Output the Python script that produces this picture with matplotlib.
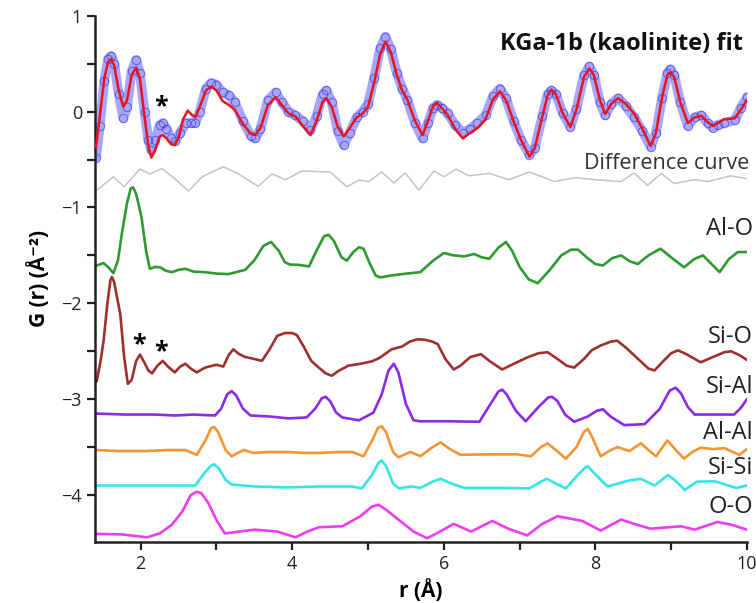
import matplotlib
matplotlib.use("Agg")
import matplotlib.pyplot as plt
from matplotlib.ticker import MultipleLocator

plt.rcParams['font.family'] = ['Open Sans', 'DejaVu Sans']

# measured G(r) for KGa-1b
data_r = [1.41, 1.46, 1.52, 1.57, 1.61, 1.65, 1.71, 1.77, 1.82, 1.88, 1.94, 1.99, 2.05, 2.10, 2.14,
          2.19, 2.25, 2.29, 2.34, 2.40, 2.45, 2.52, 2.60, 2.67, 2.72, 2.78, 2.86, 2.93, 3.00, 3.08,
          3.16, 3.24, 3.35, 3.45, 3.51, 3.58, 3.68, 3.78, 3.86, 3.95, 4.04, 4.14, 4.24, 4.32, 4.40,
          4.45, 4.52, 4.60, 4.68, 4.76, 4.85, 4.93, 5.00, 5.08, 5.16, 5.23, 5.30, 5.38, 5.45, 5.52,
          5.62, 5.72, 5.79, 5.86, 5.91, 5.97, 6.05, 6.15, 6.25, 6.35, 6.44, 6.55, 6.65, 6.74, 6.82,
          6.92, 7.02, 7.13, 7.20, 7.30, 7.37, 7.42, 7.48, 7.57, 7.67, 7.75, 7.85, 7.92, 7.98, 8.06,
          8.13, 8.21, 8.30, 8.40, 8.51, 8.62, 8.73, 8.80, 8.88, 8.95, 8.99, 9.04, 9.12, 9.22, 9.31,
          9.40, 9.48, 9.55, 9.62, 9.70, 9.84, 9.92, 10.0]
data_g = [-0.48, -0.15, 0.32, 0.55, 0.58, 0.50, 0.18, -0.07, 0.05, 0.42, 0.54, 0.40, 0.0, -0.30, -0.40,
          -0.30, -0.14, -0.12, -0.18, -0.28, -0.31, -0.22, -0.12, -0.12, -0.12, 0.0, 0.24, 0.30, 0.28, 0.20,
          0.17, 0.10, -0.10, -0.25, -0.28, -0.18, 0.12, 0.20, 0.10, 0.0, -0.04, -0.10, -0.19, -0.05, 0.18,
          0.22, 0.10, -0.20, -0.35, -0.22, -0.06, 0.0, 0.08, 0.35, 0.66, 0.78, 0.65, 0.40, 0.24, 0.12,
          -0.12, -0.28, -0.12, 0.04, 0.07, 0.04, -0.02, -0.14, -0.22, -0.18, -0.12, -0.04, 0.16, 0.24, 0.14,
          -0.10, -0.30, -0.45, -0.38, -0.05, 0.18, 0.22, 0.18, -0.02, -0.16, 0.03, 0.38, 0.47, 0.38, 0.10,
          -0.04, 0.08, 0.14, 0.06, -0.06, -0.20, -0.37, -0.22, 0.14, 0.40, 0.44, 0.38, 0.10, -0.15, -0.06,
          -0.04, -0.12, -0.17, -0.14, -0.12, -0.09, 0.04, 0.15]

# model fit
fit_r = [1.41, 1.46, 1.52, 1.57, 1.61, 1.65, 1.71, 1.77, 1.82, 1.88, 1.94, 1.99, 2.05, 2.10, 2.14,
         2.19, 2.25, 2.29, 2.34, 2.40, 2.45, 2.50, 2.56, 2.62, 2.67, 2.72, 2.78, 2.86, 2.93, 3.00,
         3.08, 3.16, 3.24, 3.35, 3.45, 3.51, 3.58, 3.68, 3.78, 3.86, 3.95, 4.04, 4.14, 4.24, 4.32,
         4.40, 4.45, 4.52, 4.60, 4.68, 4.76, 4.85, 4.93, 5.00, 5.08, 5.16, 5.23, 5.30, 5.38, 5.45,
         5.52, 5.62, 5.72, 5.79, 5.86, 5.91, 5.97, 6.05, 6.15, 6.25, 6.35, 6.44, 6.55, 6.65, 6.74,
         6.82, 6.92, 7.02, 7.13, 7.20, 7.30, 7.37, 7.42, 7.48, 7.57, 7.67, 7.75, 7.85, 7.92, 7.98,
         8.06, 8.13, 8.21, 8.30, 8.40, 8.51, 8.62, 8.73, 8.80, 8.88, 8.95, 8.99, 9.04, 9.12, 9.22,
         9.31, 9.40, 9.48, 9.55, 9.62, 9.70, 9.84, 9.92, 10.0]
fit_g = [-0.37, -0.05, 0.35, 0.52, 0.55, 0.48, 0.22, 0.05, 0.12, 0.38, 0.46, 0.34, -0.05, -0.36, -0.48,
         -0.40, -0.26, -0.245, -0.28, -0.34, -0.35, -0.27, -0.08, 0.01, -0.03, -0.06, 0.05, 0.22, 0.26, 0.22,
         0.11, 0.07, 0.02, -0.13, -0.23, -0.245, -0.17, 0.07, 0.15, 0.07, -0.02, -0.05, -0.15, -0.245, -0.10,
         0.10, 0.14, 0.05, -0.16, -0.26, -0.17, -0.06, -0.02, 0.05, 0.30, 0.60, 0.73, 0.62, 0.38, 0.22,
         0.12, -0.10, -0.245, -0.10, 0.06, 0.09, 0.04, -0.035, -0.18, -0.28, -0.22, -0.175, -0.08, 0.13, 0.21,
         0.12, -0.10, -0.30, -0.47, -0.38, -0.05, 0.17, 0.23, 0.18, -0.02, -0.16, 0.02, 0.36, 0.45, 0.38,
         0.12, -0.025, 0.08, 0.14, 0.08, -0.02, -0.18, -0.36, -0.22, 0.15, 0.38, 0.41, 0.36, 0.10, -0.12,
         -0.06, -0.045, -0.11, -0.15, -0.12, -0.08, -0.07, 0.02, 0.12]

# data minus fit, offset
diff_r = [1.42, 1.64, 1.78, 1.99, 2.12, 2.28, 2.45, 2.63, 2.81, 3.09, 3.29, 3.55, 3.73, 3.91, 4.13,
          4.50, 4.72, 4.88, 5.01, 5.18, 5.34, 5.49, 5.67, 5.87, 6.00, 6.16, 6.33, 6.60, 6.86, 7.13,
          7.46, 7.73, 8.07, 8.34, 8.51, 8.69, 8.87, 9.04, 9.31, 9.48, 9.79, 10.0]
diff_g = [-0.82, -0.68, -0.785, -0.60, -0.65, -0.595, -0.70, -0.83, -0.68, -0.575, -0.65, -0.78, -0.65, -0.71, -0.62,
          -0.63, -0.785, -0.715, -0.73, -0.63, -0.745, -0.64, -0.82, -0.62, -0.68, -0.60, -0.67, -0.645, -0.71, -0.63,
          -0.73, -0.69, -0.715, -0.73, -0.64, -0.77, -0.645, -0.75, -0.71, -0.73, -0.67, -0.70]

# partial pair contributions (offset)
alo_r = [1.42, 1.51, 1.58, 1.64, 1.70, 1.75, 1.82, 1.87, 1.90, 1.94, 2.01, 2.07, 2.12, 2.19, 2.26,
         2.33, 2.41, 2.50, 2.59, 2.70, 2.85, 3.00, 3.16, 3.38, 3.50, 3.62, 3.72, 3.82, 3.90, 3.97,
         4.10, 4.22, 4.32, 4.42, 4.48, 4.55, 4.65, 4.72, 4.80, 4.88, 4.94, 5.02, 5.10, 5.16, 5.30,
         5.45, 5.69, 5.85, 6.00, 6.13, 6.27, 6.40, 6.50, 6.60, 6.72, 6.82, 6.90, 7.00, 7.12, 7.24,
         7.40, 7.55, 7.68, 7.77, 7.90, 8.00, 8.10, 8.22, 8.34, 8.45, 8.56, 8.70, 8.86, 9.00, 9.17,
         9.30, 9.42, 9.52, 9.64, 9.76, 9.88, 10.0]
alo_g = [-1.605, -1.58, -1.63, -1.685, -1.55, -1.28, -0.95, -0.80, -0.79, -0.86, -1.10, -1.45, -1.64, -1.62, -1.625,
         -1.66, -1.675, -1.65, -1.64, -1.67, -1.675, -1.69, -1.695, -1.65, -1.55, -1.40, -1.36, -1.45, -1.57, -1.595,
         -1.60, -1.615, -1.45, -1.30, -1.285, -1.35, -1.52, -1.555, -1.47, -1.415, -1.43, -1.58, -1.71, -1.73, -1.71,
         -1.695, -1.675, -1.56, -1.475, -1.50, -1.51, -1.485, -1.52, -1.535, -1.42, -1.36, -1.45, -1.62, -1.75, -1.79,
         -1.65, -1.50, -1.44, -1.44, -1.53, -1.59, -1.605, -1.53, -1.50, -1.56, -1.59, -1.50, -1.43, -1.52, -1.625,
         -1.54, -1.50, -1.58, -1.675, -1.54, -1.465, -1.465]

sio_r = [1.42, 1.47, 1.51, 1.56, 1.60, 1.62, 1.65, 1.69, 1.73, 1.78, 1.83, 1.88, 1.94, 1.99, 2.05,
         2.10, 2.15, 2.22, 2.29, 2.36, 2.45, 2.52, 2.59, 2.66, 2.74, 2.85, 3.00, 3.09, 3.16, 3.22,
         3.30, 3.38, 3.50, 3.60, 3.70, 3.80, 3.90, 4.00, 4.06, 4.15, 4.25, 4.35, 4.44, 4.52, 4.62,
         4.74, 4.90, 5.05, 5.15, 5.31, 5.45, 5.55, 5.65, 5.75, 5.85, 5.92, 6.02, 6.13, 6.22, 6.35,
         6.49, 6.60, 6.77, 6.95, 7.10, 7.25, 7.37, 7.50, 7.62, 7.72, 7.85, 7.95, 8.07, 8.20, 8.29,
         8.40, 8.55, 8.70, 8.78, 8.90, 9.00, 9.09, 9.20, 9.39, 9.55, 9.70, 9.79, 9.90, 10.0]
sio_g = [-2.81, -2.60, -2.39, -2.00, -1.76, -1.725, -1.78, -1.95, -2.11, -2.55, -2.84, -2.80, -2.60, -2.535, -2.62,
         -2.70, -2.73, -2.65, -2.60, -2.66, -2.72, -2.66, -2.63, -2.68, -2.72, -2.67, -2.64, -2.66, -2.54, -2.48,
         -2.53, -2.56, -2.58, -2.60, -2.48, -2.34, -2.31, -2.31, -2.33, -2.45, -2.60, -2.67, -2.73, -2.755, -2.70,
         -2.65, -2.63, -2.605, -2.57, -2.48, -2.45, -2.40, -2.375, -2.38, -2.40, -2.425, -2.58, -2.69, -2.65, -2.56,
         -2.53, -2.60, -2.69, -2.62, -2.565, -2.52, -2.51, -2.58, -2.65, -2.67, -2.58, -2.49, -2.44, -2.40, -2.39,
         -2.46, -2.57, -2.68, -2.70, -2.60, -2.52, -2.49, -2.53, -2.615, -2.56, -2.51, -2.50, -2.54, -2.59]

sial_r = [1.42, 1.80, 2.19, 2.45, 2.70, 2.98, 3.06, 3.14, 3.20, 3.26, 3.35, 3.45, 3.70, 3.95, 4.19,
          4.30, 4.39, 4.44, 4.50, 4.58, 4.66, 4.88, 5.07, 5.18, 5.27, 5.34, 5.40, 5.50, 5.60, 5.69,
          6.05, 6.47, 6.60, 6.72, 6.77, 6.83, 6.95, 7.08, 7.25, 7.38, 7.43, 7.50, 7.60, 7.72, 7.90,
          8.02, 8.10, 8.20, 8.38, 8.65, 8.85, 8.98, 9.06, 9.13, 9.22, 9.31, 9.60, 9.83, 9.92, 10.0]
sial_g = [-3.15, -3.16, -3.16, -3.17, -3.16, -3.17, -3.10, -2.95, -2.915, -2.96, -3.10, -3.17, -3.18, -3.20, -3.19,
          -3.10, -2.99, -2.975, -3.02, -3.14, -3.19, -3.22, -3.14, -2.95, -2.70, -2.63, -2.72, -3.05, -3.22, -3.23,
          -3.23, -3.235, -3.07, -2.92, -2.90, -2.95, -3.12, -3.23, -3.08, -2.98, -2.975, -3.02, -3.16, -3.235, -3.18,
          -3.12, -3.105, -3.18, -3.27, -3.26, -3.10, -2.91, -2.88, -2.94, -3.08, -3.16, -3.16, -3.16, -3.09, -3.00]

alal_r = [1.42, 1.70, 2.07, 2.35, 2.59, 2.74, 2.86, 2.93, 2.97, 3.02, 3.12, 3.20, 3.28, 3.36, 3.49,
          3.70, 3.93, 4.15, 4.37, 4.60, 4.79, 4.94, 5.06, 5.13, 5.18, 5.24, 5.33, 5.40, 5.56, 5.69,
          5.85, 5.96, 6.08, 6.22, 6.57, 6.97, 7.15, 7.28, 7.37, 7.48, 7.61, 7.75, 7.85, 7.90, 7.96,
          8.07, 8.18, 8.29, 8.45, 8.60, 8.70, 8.80, 8.95, 9.05, 9.17, 9.28, 9.39, 9.55, 9.70, 9.90, 10.0]
alal_g = [-3.53, -3.54, -3.54, -3.53, -3.53, -3.58, -3.42, -3.30, -3.29, -3.34, -3.53, -3.595, -3.56, -3.53, -3.56,
          -3.55, -3.55, -3.56, -3.56, -3.55, -3.55, -3.595, -3.42, -3.30, -3.28, -3.35, -3.55, -3.605, -3.55, -3.595,
          -3.50, -3.45, -3.52, -3.58, -3.575, -3.575, -3.595, -3.50, -3.46, -3.53, -3.62, -3.50, -3.34, -3.31, -3.40,
          -3.595, -3.54, -3.50, -3.54, -3.46, -3.53, -3.595, -3.43, -3.52, -3.62, -3.55, -3.505, -3.52, -3.51, -3.58, -3.52]

sisi_r = [1.42, 1.80, 2.19, 2.50, 2.72, 2.85, 2.93, 2.97, 3.03, 3.12, 3.20, 3.50, 3.93, 4.37, 4.79,
          4.92, 5.06, 5.14, 5.18, 5.24, 5.33, 5.41, 5.57, 5.69, 5.85, 5.96, 6.10, 6.27, 6.80, 7.13,
          7.28, 7.36, 7.48, 7.61, 7.78, 7.87, 7.90, 7.97, 8.16, 8.43, 8.60, 8.78, 8.96, 9.07, 9.18,
          9.34, 9.57, 9.86, 10.0]
sisi_g = [-3.90, -3.90, -3.90, -3.90, -3.90, -3.76, -3.69, -3.68, -3.72, -3.84, -3.89, -3.91, -3.92, -3.91, -3.91,
          -3.93, -3.78, -3.66, -3.64, -3.70, -3.88, -3.93, -3.91, -3.925, -3.86, -3.83, -3.88, -3.925, -3.925, -3.93,
          -3.86, -3.83, -3.88, -3.93, -3.78, -3.71, -3.70, -3.76, -3.91, -3.85, -3.83, -3.90, -3.79, -3.86, -3.945,
          -3.86, -3.855, -3.925, -3.90]

oo_r = [1.42, 1.75, 2.08, 2.25, 2.41, 2.55, 2.66, 2.74, 2.80, 2.89, 3.00, 3.11, 3.30, 3.51, 3.80,
        4.04, 4.20, 4.35, 4.66, 4.90, 5.05, 5.14, 5.25, 5.40, 5.60, 5.78, 5.95, 6.13, 6.36, 6.64,
        6.85, 7.10, 7.30, 7.50, 7.83, 8.07, 8.34, 8.55, 8.73, 9.13, 9.31, 9.61, 9.80, 10.0]
oo_g = [-4.405, -4.41, -4.44, -4.40, -4.31, -4.17, -4.00, -3.965, -3.98, -4.08, -4.26, -4.40, -4.38, -4.36, -4.38,
        -4.44, -4.38, -4.335, -4.325, -4.22, -4.12, -4.10, -4.16, -4.255, -4.38, -4.45, -4.38, -4.30, -4.38, -4.27,
        -4.35, -4.42, -4.30, -4.22, -4.27, -4.37, -4.255, -4.31, -4.35, -4.325, -4.36, -4.28, -4.31, -4.36]

partials = [
    ("Al-O", alo_r, alo_g, "#2f9a2f", -1.22),
    ("Si-O", sio_r, sio_g, "#a03030", -2.35),
    ("Si-Al", sial_r, sial_g, "#8a2be6", -2.87),
    ("Al-Al", alal_r, alal_g, "#f59433", -3.35),
    ("Si-Si", sisi_r, sisi_g, "#33e6e6", -3.72),
    ("O-O", oo_r, oo_g, "#ee3cee", -4.12),
]

fig = plt.figure(figsize=(7.56, 6.03), dpi=100)
ax = fig.add_axes([0.126, 0.101, 0.862, 0.873])

# data shown as a band of open circles
ax.plot(data_r, data_g, color="#3c3cf5", lw=7, alpha=0.45, solid_joinstyle="round",
        solid_capstyle="round", zorder=2)
ax.plot(data_r, data_g, ls="none", marker="o", ms=6, mfc="none", mec="#1f1fd0",
        mew=0.8, alpha=0.5, zorder=3)
ax.plot(fit_r, fit_g, color="#e8141e", lw=1.8, solid_joinstyle="round", zorder=4)
ax.plot(diff_r, diff_g, color="#c4c4c4", lw=1.1, zorder=2)

for name, r, g, col, ylab in partials:
    ax.plot(r, g, color=col, lw=1.9, solid_joinstyle="round", zorder=2)
    ax.text(10.08, ylab, name, ha="right", va="center", fontsize=17, color="#222222",
            clip_on=False)

ax.text(9.95, 0.70, "KGa-1b (kaolinite) fit", ha="right", va="center", fontsize=17,
        fontweight="bold", color="#111111")
ax.text(10.03, -0.54, "Difference curve", ha="right", va="center", fontsize=15.5,
        color="#333333", clip_on=False)

# asterisks mark the peaks discussed in the text
ax.text(2.27, 0.05, "*", ha="center", va="center", fontsize=18, fontweight="bold")
ax.text(1.98, -2.43, "*", ha="center", va="center", fontsize=18, fontweight="bold")
ax.text(2.27, -2.50, "*", ha="center", va="center", fontsize=18, fontweight="bold")

ax.set_xlim(1.4, 10)
ax.set_ylim(-4.49, 1.0)
ax.xaxis.set_major_locator(MultipleLocator(2))
ax.xaxis.set_minor_locator(MultipleLocator(1))
ax.yaxis.set_major_locator(MultipleLocator(1))
ax.yaxis.set_minor_locator(MultipleLocator(0.5))
ax.tick_params(which="both", direction="out", length=6, width=1.6, color="#222222")
ax.tick_params(labelsize=13, colors="#222222")

for side in ["top", "right"]:
    ax.spines[side].set_visible(False)
for side in ["left", "bottom"]:
    ax.spines[side].set_linewidth(1.8)
    ax.spines[side].set_color("#222222")

ax.set_xlabel("r (Å)", fontsize=15, fontweight="bold", labelpad=4)
ax.set_ylabel("G (r) (Å⁻²)", fontsize=15, fontweight="bold", labelpad=8)

fig.savefig("out.png", dpi=100)
